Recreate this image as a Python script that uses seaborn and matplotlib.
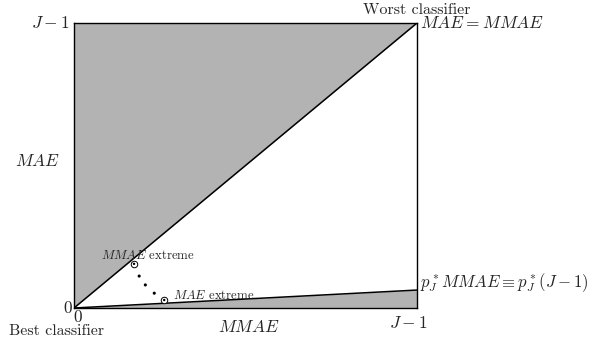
import matplotlib
matplotlib.use("Agg")
import matplotlib.pyplot as plt
import seaborn as sns
import pandas as pd
import numpy as np

sns.set_style("white")
plt.rcParams["font.family"] = ["serif"]
plt.rcParams["font.serif"] = ["cmr10", "DejaVu Serif"]
plt.rcParams["mathtext.fontset"] = "cm"
plt.rcParams["axes.unicode_minus"] = False

# data (normalised: 1 == J-1)
p_star = 0.063
diag_x = [0.0, 1.0]
diag_y = [0.0, 1.0]
low_x = [0.0, 1.0]
low_y = [0.0, p_star]
extreme_x = [0.175, 0.263]
extreme_y = [0.155, 0.028]
path_x = [0.19, 0.208, 0.234]
path_y = [0.112, 0.081, 0.052]

fig = plt.figure(figsize=(5.97, 3.44), dpi=100)
ax = fig.add_axes([74/597, 1-308/344, 343/597, 285/344])

grey = "#b3b3b3"
ax.fill_between(diag_x, diag_y, [1, 1], color=grey, lw=0)
ax.fill_between(low_x, [0, 0], low_y, color=grey, lw=0)

sns.lineplot(x=diag_x, y=diag_y, ax=ax, color="black", lw=1.1)
sns.lineplot(x=low_x, y=low_y, ax=ax, color="black", lw=1.1)

sns.scatterplot(x=path_x, y=path_y, ax=ax, color="black", s=5, edgecolor="none")
sns.scatterplot(x=extreme_x, y=extreme_y, ax=ax, facecolor="white", edgecolor="black",
                s=22, linewidth=0.7, zorder=5)
sns.scatterplot(x=extreme_x, y=extreme_y, ax=ax, color="black", s=3, edgecolor="none", zorder=6)

ax.set_xlim(0, 1)
ax.set_ylim(0, 1)
ax.set_xticks([])
ax.set_yticks([])
for s in ax.spines.values():
    s.set_visible(True)
    s.set_color("black")
    s.set_linewidth(1.0)
ax.set_xlabel("")
ax.set_ylabel("")

fs = 11.5
mfs = 12.5
kw = dict(clip_on=False, fontsize=fs)
mkw = dict(clip_on=False, fontsize=mfs)
ax.text(-0.012, 1.0, r"$J-1$", ha="right", va="center", **mkw)
ax.text(-0.004, 0.0, r"$0$", ha="right", va="center", **mkw)
ax.text(-0.002, -0.003, r"$0$", ha="left", va="top", **mkw)
ax.text(0.975, -0.025, r"$J-1$", ha="center", va="top", **mkw)
ax.text(-0.105, 0.515, r"$MAE$", ha="center", va="center", **mkw)
ax.text(0.51, -0.065, r"$MMAE$", ha="center", va="center", **mkw)
ax.text(-0.05, -0.08, "Best classifier", ha="center", va="center", **kw)
ax.text(1.0, 1.02, "Worst classifier", ha="center", va="bottom", **kw)
ax.text(1.008, 1.0, r"$MAE = MMAE$", ha="left", va="center", **mkw)
ax.text(1.008, 0.09, r"$p^*_J MMAE \equiv p^*_J(J-1)$", ha="left", va="center",
        clip_on=False, fontsize=12.1)
ax.text(0.08, 0.185, r"$MMAE$ extreme", ha="left", va="center", clip_on=False, fontsize=9.2)
ax.text(0.29, 0.045, r"$MAE$ extreme", ha="left", va="center", clip_on=False, fontsize=9.2)

fig.savefig("out.png", dpi=100)
